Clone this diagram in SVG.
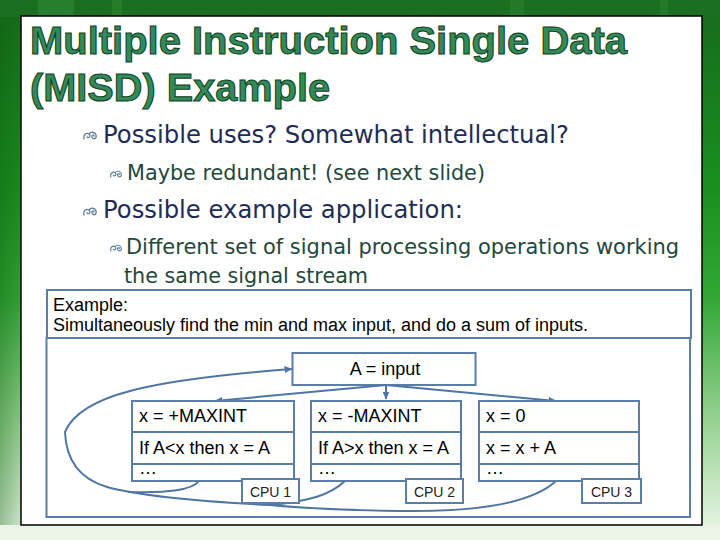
<svg xmlns="http://www.w3.org/2000/svg" width="720" height="540" viewBox="0 0 720 540">
  <defs>
    <linearGradient id="bg" x1="0" y1="0" x2="0" y2="1">
      <stop offset="0" stop-color="#176a1c"/>
      <stop offset="0.35" stop-color="#1a8f20"/>
      <stop offset="0.55" stop-color="#33a636"/>
      <stop offset="0.8" stop-color="#9fd69a"/>
      <stop offset="1" stop-color="#eef7ec"/>
    </linearGradient>
    <linearGradient id="leftShade" x1="0" y1="0" x2="1" y2="0">
      <stop offset="0" stop-color="#0a5a0a" stop-opacity="0.35"/>
      <stop offset="1" stop-color="#0a5a0a" stop-opacity="0"/>
    </linearGradient>
    <marker id="arr" viewBox="0 0 8 7" refX="7.5" refY="3.5" markerWidth="8" markerHeight="7" markerUnits="userSpaceOnUse" orient="auto">
      <path d="M0,0 L8,3.5 L0,7 z" fill="#4f76a3"/>
    </marker>
    <symbol id="bul" viewBox="0 0 14 10">
      <path d="M1,8 C0,4 3,1 6,3 C8,5 6,8 4,6 M6,3 C8,0 12,1 13,4 C14,8 10,9 9,6 C8,4 11,3 11,5" fill="none" stroke="#5f7f99" stroke-width="1.3" stroke-linecap="round"/>
    </symbol>
  </defs>
  <style>
    .title { font-family: "Liberation Sans", Arial, sans-serif; font-weight: bold; font-size: 39px; fill: #338a58; stroke: #0f3d20; stroke-width: 1px; }
    .l1 { font-family: "DejaVu Sans", Verdana, sans-serif; font-size: 24px; fill: #1f2d56; }
    .l2 { font-family: "DejaVu Sans", Verdana, sans-serif; font-size: 20.5px; fill: #24473d; }
    .dt { font-family: "Liberation Sans", Arial, sans-serif; font-size: 18px; fill: #000; }
    .cpu { font-family: "Liberation Sans", Arial, sans-serif; font-size: 14px; fill: #222; text-anchor: middle; }
    .box { fill: #fff; stroke: #5b7ea8; stroke-width: 2; }
    .conn { fill: none; stroke: #4f76a3; stroke-width: 2; }
  </style>

  <!-- background -->
  <rect x="0" y="0" width="720" height="540" fill="url(#bg)"/>
  <rect x="0" y="0" width="30" height="540" fill="url(#leftShade)"/>
  <rect x="0" y="0" width="720" height="17" fill="#1c6e21"/>
  <rect x="38" y="0" width="36" height="17" fill="#2f8a35" opacity="0.6"/>
  <rect x="112" y="0" width="10" height="17" fill="#2f8a35" opacity="0.5"/>
  <rect x="510" y="0" width="14" height="17" fill="#2f8a35" opacity="0.4"/>
  <rect x="660" y="0" width="8" height="17" fill="#2f8a35" opacity="0.4"/>
  <rect x="0" y="525" width="720" height="15" fill="#eaf5e7"/>

  <!-- white panel -->
  <rect x="21" y="16" width="681" height="509" fill="#fff" stroke="#000" stroke-width="1.5"/>

  <g id="title">
    <text class="title" x="30" y="54" textLength="597" lengthAdjust="spacingAndGlyphs">Multiple Instruction Single Data</text>
    <text class="title" x="30" y="101" textLength="300" lengthAdjust="spacingAndGlyphs">(MISD) Example</text>
  </g>

  <g id="bullets">
    <use href="#bul" x="83" y="131" width="14" height="10"/>
    <text class="l1" x="103" y="143" textLength="466" lengthAdjust="spacingAndGlyphs">Possible uses? Somewhat intellectual?</text>
    <use href="#bul" x="110" y="170" width="12" height="9"/>
    <text class="l2" x="127" y="180" textLength="358" lengthAdjust="spacingAndGlyphs">Maybe redundant! (see next slide)</text>
    <use href="#bul" x="83" y="207" width="14" height="10"/>
    <text class="l1" x="103" y="218" textLength="360" lengthAdjust="spacingAndGlyphs">Possible example application:</text>
    <use href="#bul" x="110" y="244" width="12" height="9"/>
    <text class="l2" x="126" y="254" textLength="553" lengthAdjust="spacingAndGlyphs">Different set of signal processing operations working</text>
    <text class="l2" x="124" y="283" textLength="244" lengthAdjust="spacingAndGlyphs">the same signal stream</text>
  </g>

  <g id="frame">
    <rect class="box" x="47" y="290" width="644" height="48"/>
    <rect class="box" x="46.5" y="338" width="643.5" height="179"/>
    <text class="dt" x="53" y="311">Example:</text>
    <text class="dt" x="53" y="331" textLength="535" lengthAdjust="spacingAndGlyphs">Simultaneously find the min and max input, and do a sum of inputs.</text>
  </g>

  <g id="nodeA">
    <rect class="box" x="292.5" y="353" width="183" height="32"/>
    <text class="dt" x="385" y="375" text-anchor="middle">A = input</text>
  </g>

  <g id="connectors">
    <path class="conn" d="M386,385 L215,401" marker-end="url(#arr)"/>
    <path class="conn" d="M386,385 L386,399" marker-end="url(#arr)"/>
    <path class="conn" d="M386,385 L556,401" marker-end="url(#arr)"/>
    <path class="conn" d="M556,481 C530,505 470,512 400,511 C340,510 300,508 270,505 C210,502 140,496 107,487 C80,479 66,460 65,432 C80,395 150,380 292,369" marker-end="url(#arr)"/>
    <path class="conn" d="M345,481 C330,495 310,501 270,505"/>
    <path class="conn" d="M199,481 C192,490 170,493 128,492"/>
  </g>

  <g id="cpu1">
    <rect class="box" x="132" y="401" width="162" height="31"/>
    <rect class="box" x="132" y="432" width="162" height="32"/>
    <rect class="box" x="132" y="464" width="162" height="17"/>
    <text class="dt" x="139" y="422">x = +MAXINT</text>
    <text class="dt" x="139" y="454">If A&lt;x then x = A</text>
    <text class="dt" x="139" y="474" font-size="15">…</text>
    <rect class="box" x="242" y="479" width="57" height="24"/>
    <text class="cpu" x="270.5" y="497">CPU 1</text>
  </g>

  <g id="cpu2">
    <rect class="box" x="311" y="401" width="150" height="31"/>
    <rect class="box" x="311" y="432" width="150" height="32"/>
    <rect class="box" x="311" y="464" width="150" height="17"/>
    <text class="dt" x="318" y="422">x = -MAXINT</text>
    <text class="dt" x="318" y="454">If A&gt;x then x = A</text>
    <text class="dt" x="318" y="474" font-size="15">…</text>
    <rect class="box" x="406" y="479" width="57" height="24"/>
    <text class="cpu" x="434.5" y="497">CPU 2</text>
  </g>

  <g id="cpu3">
    <rect class="box" x="479" y="401" width="160" height="31"/>
    <rect class="box" x="479" y="432" width="160" height="32"/>
    <rect class="box" x="479" y="464" width="160" height="17"/>
    <text class="dt" x="486" y="422">x = 0</text>
    <text class="dt" x="486" y="454">x = x + A</text>
    <text class="dt" x="486" y="474" font-size="15">…</text>
    <rect class="box" x="582" y="479" width="59" height="24"/>
    <text class="cpu" x="611.5" y="497">CPU 3</text>
  </g>
</svg>
